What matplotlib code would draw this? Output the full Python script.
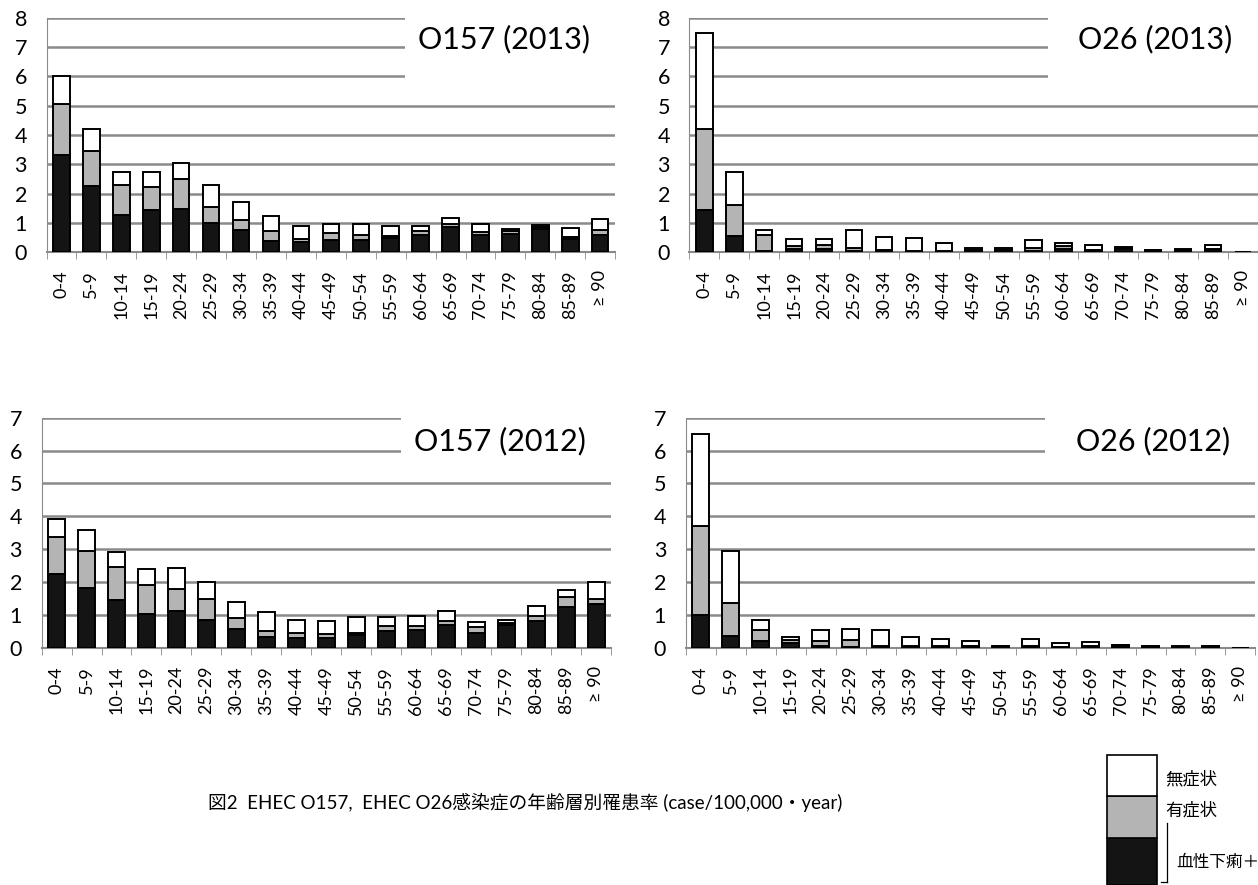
import numpy as np
import matplotlib.pyplot as plt
from matplotlib.patches import Rectangle
from matplotlib.lines import Line2D

plt.rcParams['font.family'] = ['Lato', 'Noto Sans CJK JP', 'DejaVu Sans']

# age groups
ages = ['0-4', '5-9', '10-14', '15-19', '20-24', '25-29', '30-34', '35-39', '40-44',
        '45-49', '50-54', '55-59', '60-64', '65-69', '70-74', '75-79', '80-84',
        '85-89', '≥ 90']

# O157 (2013): bloody diarrhea / symptomatic / asymptomatic (case/100,000/year)
o157_13_blood = [3.30, 2.27, 1.28, 1.43, 1.48, 0.99, 0.76, 0.38, 0.35, 0.40, 0.40, 0.47, 0.60, 0.85, 0.58, 0.62, 0.80, 0.45, 0.60]
o157_13_sympt = [1.75, 1.18, 1.00, 0.80, 1.02, 0.56, 0.34, 0.34, 0.10, 0.27, 0.20, 0.10, 0.12, 0.10, 0.10, 0.10, 0.05, 0.08, 0.15]
o157_13_asym  = [0.97, 0.75, 0.45, 0.52, 0.54, 0.75, 0.62, 0.53, 0.45, 0.30, 0.37, 0.33, 0.18, 0.23, 0.27, 0.08, 0.08, 0.30, 0.37]

# O26 (2013)
o26_13_blood = [1.43, 0.56, 0.05, 0.12, 0.10, 0.03, 0.02, 0.00, 0.00, 0.00, 0.00, 0.05, 0.12, 0.03, 0.10, 0.03, 0.02, 0.05, 0.0]
o26_13_sympt = [2.76, 1.04, 0.55, 0.08, 0.15, 0.12, 0.05, 0.03, 0.05, 0.08, 0.08, 0.08, 0.10, 0.05, 0.04, 0.03, 0.07, 0.05, 0.0]
o26_13_asym  = [3.29, 1.14, 0.17, 0.24, 0.20, 0.61, 0.45, 0.44, 0.25, 0.07, 0.07, 0.28, 0.10, 0.18, 0.03, 0.03, 0.03, 0.15, 0.0]

# O157 (2012)
o157_12_blood = [2.24, 1.83, 1.44, 1.04, 1.12, 0.86, 0.56, 0.33, 0.30, 0.30, 0.38, 0.50, 0.55, 0.68, 0.45, 0.68, 0.82, 1.25, 1.32]
o157_12_sympt = [1.12, 1.12, 1.03, 0.86, 0.68, 0.64, 0.36, 0.18, 0.14, 0.12, 0.07, 0.15, 0.12, 0.14, 0.17, 0.07, 0.16, 0.30, 0.18]
o157_12_asym  = [0.56, 0.63, 0.46, 0.50, 0.64, 0.50, 0.47, 0.59, 0.42, 0.41, 0.48, 0.28, 0.30, 0.30, 0.16, 0.10, 0.30, 0.20, 0.50]

# O26 (2012)
o26_12_blood = [0.99, 0.35, 0.22, 0.15, 0.05, 0.03, 0.00, 0.00, 0.02, 0.02, 0.00, 0.02, 0.00, 0.02, 0.02, 0.03, 0.01, 0.03, 0.0]
o26_12_sympt = [2.72, 1.02, 0.33, 0.10, 0.15, 0.20, 0.05, 0.05, 0.03, 0.05, 0.05, 0.03, 0.04, 0.05, 0.06, 0.02, 0.03, 0.02, 0.0]
o26_12_asym  = [2.78, 1.58, 0.31, 0.08, 0.33, 0.35, 0.48, 0.28, 0.22, 0.13, 0.02, 0.22, 0.10, 0.10, 0.02, 0.01, 0.01, 0.02, 0.0]

panels = [
    ('O157 (2013)', o157_13_blood, o157_13_sympt, o157_13_asym, 8, [0.037, 0.715, 0.452, 0.265]),
    ('O26 (2013)', o26_13_blood, o26_13_sympt, o26_13_asym, 8, [0.548, 0.715, 0.452, 0.265]),
    ('O157 (2012)', o157_12_blood, o157_12_sympt, o157_12_asym, 7, [0.033, 0.268, 0.453, 0.260]),
    ('O26 (2012)', o26_12_blood, o26_12_sympt, o26_12_asym, 7, [0.545, 0.268, 0.453, 0.260]),
]

BLACK = '#141414'
GRAY = '#b4b4b4'
GRID = '#8a8a8a'

fig = plt.figure(figsize=(12.58, 8.85), dpi=100)

for title, blood, sympt, asym, ymax, pos in panels:
    ax = fig.add_axes(pos)
    x = np.arange(len(ages))
    blood = np.array(blood)
    sympt = np.array(sympt)
    asym = np.array(asym)
    kw = dict(width=0.55, edgecolor='black', linewidth=1.4, zorder=3)
    ax.bar(x, blood, color=BLACK, **kw)
    ax.bar(x, sympt, bottom=blood, color=GRAY, **kw)
    ax.bar(x, asym, bottom=blood + sympt, color='white', **kw)

    ax.set_xlim(-0.5, len(ages) - 0.5)
    ax.set_ylim(0, ymax)
    ax.set_yticks(range(ymax + 1))
    ax.yaxis.grid(True, color=GRID, linewidth=1.8, zorder=0)
    ax.set_axisbelow(True)
    ax.tick_params(axis='y', length=0, labelsize=15.5, pad=14)
    ax.set_xticks(x)
    ax.set_xticklabels(ages, rotation=90, fontsize=13)
    ax.tick_params(axis='x', length=0, pad=13)
    ax.set_xticks(np.arange(len(ages) + 1) - 0.5, minor=True)
    ax.tick_params(axis='x', which='minor', length=5, color=GRID)
    for s in ['top', 'right']:
        ax.spines[s].set_visible(False)
    ax.spines['left'].set_color(GRID)
    ax.spines['bottom'].set_color(GRID)
    ax.spines['bottom'].set_linewidth(1.5)

    # white box behind the panel title hides the upper gridlines
    top = 5.5 / ymax
    ax.add_patch(Rectangle((0.63, top), 0.38, 1.05 - top, transform=ax.transAxes,
                           facecolor='white', edgecolor='none', zorder=1, clip_on=False))
    ax.text(0.955, 0.91 if ymax == 8 else 0.9, title, transform=ax.transAxes,
            ha='right', va='center', fontsize=22, zorder=4)

# caption
fig.text(0.165, 0.093, '図2  EHEC O157,  EHEC O26感染症の年齢層別罹患率 (case/100,000・year)',
         fontsize=13.5, ha='left', va='center')

# legend as a single stacked bar
lx, lw = 0.880, 0.040
fig.patches.append(Rectangle((lx, 0.0), lw, 0.053, transform=fig.transFigure,
                             facecolor=BLACK, edgecolor='black', linewidth=1.2))
fig.patches.append(Rectangle((lx, 0.053), lw, 0.048, transform=fig.transFigure,
                             facecolor=GRAY, edgecolor='black', linewidth=1.2))
fig.patches.append(Rectangle((lx, 0.101), lw, 0.046, transform=fig.transFigure,
                             facecolor='white', edgecolor='black', linewidth=1.2))
fig.text(lx + lw + 0.006, 0.12, '無症状', fontsize=12.5, va='center')
fig.text(lx + lw + 0.006, 0.085, '有症状', fontsize=12.5, va='center')
fig.text(lx + lw + 0.015, 0.026, '血性下痢＋', fontsize=12, va='center')
# bracket from 有症状 down to the bottom of the bar
bx = lx + lw + 0.008
fig.lines.append(Line2D([bx, bx], [0.07, 0.003], transform=fig.transFigure,
                        color='black', linewidth=0.9))
fig.lines.append(Line2D([bx - 0.005, bx], [0.003, 0.003], transform=fig.transFigure,
                        color='black', linewidth=0.9))

fig.savefig('out.png', dpi=100)
